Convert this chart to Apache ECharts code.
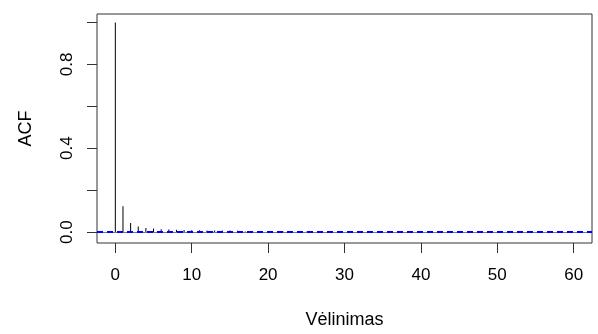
<!DOCTYPE html>
<html>
<head>
<meta charset="utf-8">
<script src="https://cdn.jsdelivr.net/npm/echarts@6/dist/echarts.min.js"></script>
<style>
  html, body { margin: 0; padding: 0; background: #fff; }
  #chart { width: 598px; height: 334px; }
</style>
</head>
<body>
<div id="chart"></div>
<script>
// Autocorrelation values by lag
const lags = Array.from({ length: 61 }, (_, i) => i);
const acfValues = [
  1.000, 0.123, 0.043, 0.027, 0.020, 0.017, 0.014, 0.012, 0.011, 0.010,
  0.009, 0.009, 0.008, 0.008, 0.008, 0.008, 0.007, 0.003, 0.002, 0.002,
  0.002, 0.001, 0.002, 0.001, 0.001, 0.002, 0.001, 0.001, 0.001, 0.000,
  0.001, 0.001, 0.000, 0.001, 0.000, 0.001, 0.000, 0.000, 0.001, 0.000,
  0.000, 0.000, 0.001, 0.000, 0.000, -0.001, 0.000, 0.000, 0.000, -0.001,
  0.000, 0.000, -0.001, 0.000, 0.000, 0.000, -0.001, 0.000, 0.000, 0.000,
  0.000
];
// Significance bounds (±1.96/sqrt(n))
const confLimit = 0.003;

const xTicks = [0, 10, 20, 30, 40, 50, 60];
const yTicks = [0, 0.2, 0.4, 0.6, 0.8, 1.0];
const yLabels = [0, 0.4, 0.8];

const FONT = 'Liberation Sans, Arial, sans-serif';

const chart = echarts.init(document.getElementById('chart'), null, { renderer: 'canvas' });

chart.setOption({
  animation: false,
  backgroundColor: '#fff',
  grid: {
    left: 97, top: 14, right: 6, bottom: 90,
    show: true, borderColor: '#333', borderWidth: 1, backgroundColor: 'transparent'
  },
  xAxis: {
    type: 'value',
    min: -2.4, max: 62.4,
    name: 'Vėlinimas',
    nameLocation: 'middle',
    nameGap: 68,
    nameTextStyle: { fontFamily: FONT, fontSize: 18, color: '#000' },
    axisLine: { show: false, onZero: false },
    splitLine: { show: false },
    axisTick: {
      show: true, length: 10, inside: false,
      customValues: xTicks,
      lineStyle: { color: '#333', width: 1 }
    },
    axisLabel: {
      customValues: xTicks,
      margin: 24,
      fontFamily: FONT, fontSize: 17, color: '#000'
    }
  },
  yAxis: {
    type: 'value',
    min: -0.052, max: 1.04,
    name: 'ACF',
    nameLocation: 'middle',
    nameGap: 62,
    nameRotate: 90,
    nameTextStyle: { fontFamily: FONT, fontSize: 18, color: '#000' },
    axisLine: { show: false, onZero: false },
    splitLine: { show: false },
    axisTick: {
      show: true, length: 10, inside: false,
      customValues: yTicks,
      lineStyle: { color: '#333', width: 1 }
    },
    axisLabel: {
      customValues: yLabels,
      rotate: 90,
      margin: 21,
      align: 'center',
      verticalAlign: 'bottom',
      formatter: v => v.toFixed(1),
      fontFamily: FONT, fontSize: 17, color: '#000'
    }
  },
  series: [
    {
      type: 'bar',
      data: lags.map((l, i) => [l, acfValues[i]]),
      barWidth: 1,
      itemStyle: { color: '#000' },
      silent: true,
      markLine: {
        silent: true,
        symbol: 'none',
        label: { show: false },
        data: [
          { yAxis: 0, lineStyle: { color: '#777', width: 1, type: 'solid' } },
          { yAxis: confLimit, lineStyle: { color: '#0000ff', width: 2, type: [6, 4] } },
          { yAxis: -confLimit, lineStyle: { color: '#0000ff', width: 2, type: [6, 4] } }
        ]
      }
    }
  ]
});
</script>
</body>
</html>
